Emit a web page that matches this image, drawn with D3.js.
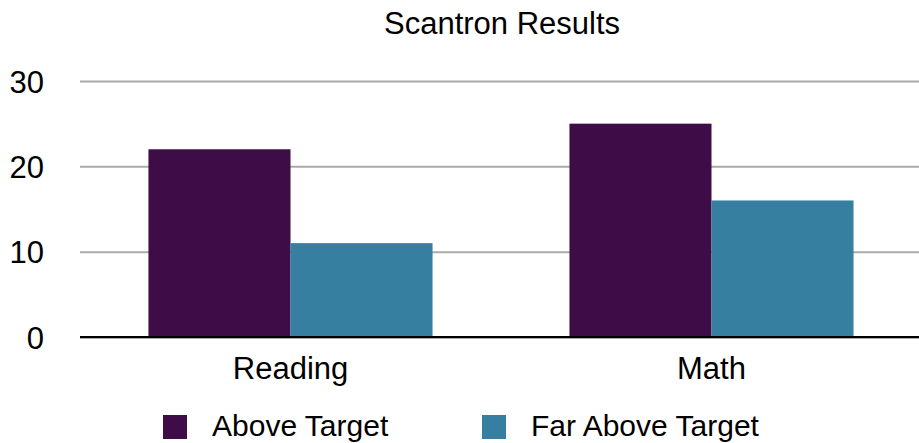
<!DOCTYPE html>
<html>
<head>
<meta charset="utf-8">
<script src="https://cdn.jsdelivr.net/npm/d3@7"></script>
<style>
  html, body { margin: 0; padding: 0; background: #fff; }
  svg { display: block; }
  text { font-family: "Liberation Sans", Arial, Helvetica, sans-serif; fill: #000; }
</style>
</head>
<body>
<svg id="chart" width="919" height="443"></svg>
<script>
const title = "Scantron Results";
const categories = ["Reading", "Math"];
const seriesNames = ["Above Target", "Far Above Target"];
const aboveTarget = [22, 25];
const farAboveTarget = [11, 16];
const yTicks = [0, 10, 20, 30];
const colors = ["#3e0d47", "#377fa1"];

const seriesValues = [aboveTarget, farAboveTarget];
const data = categories.map((c, i) => ({
  category: c,
  values: seriesNames.map((s, j) => ({ series: s, value: seriesValues[j][i], idx: j }))
}));

const svg = d3.select("#chart");
const plotLeft = 80, plotRight = 922, yTop = 81, yBottom = 337;

const x = d3.scaleBand().domain(categories).range([plotLeft, plotRight]).paddingInner(0).paddingOuter(0);
const xInner = d3.scaleBand().domain(seriesNames).range([0, x.bandwidth()]).paddingInner(0).paddingOuter(0.482);
const y = d3.scaleLinear().domain([0, 30]).range([yBottom, yTop]);

// Title
svg.append("text")
  .attr("x", 502).attr("y", 34)
  .attr("text-anchor", "middle")
  .style("font-size", "31px")
  .text(title);

// Gridlines
const yAxis = d3.axisLeft(y).tickValues(yTicks).tickSize(-(919 - plotLeft)).tickFormat(d3.format("d")).tickPadding(36);
const gAxis = svg.append("g").attr("transform", `translate(${plotLeft},0)`).call(yAxis);
gAxis.select(".domain").remove();
gAxis.selectAll(".tick line").attr("stroke", "#aaaaaa").attr("stroke-width", 2);
gAxis.selectAll(".tick text")
  .style("font-size", "31px")
  .attr("fill", "#000")
  .attr("dy", "0.36em");

// Bars
const groups = svg.append("g").selectAll("g")
  .data(data).join("g")
  .attr("transform", d => `translate(${x(d.category)},0)`);

groups.selectAll("rect")
  .data(d => d.values).join("rect")
  .attr("x", d => xInner(d.series))
  .attr("width", xInner.bandwidth())
  .attr("y", d => y(d.value))
  .attr("height", d => y(0) - y(d.value))
  .attr("fill", d => colors[d.idx]);

// Baseline axis
svg.append("line")
  .attr("x1", plotLeft).attr("x2", 919)
  .attr("y1", y(0) + 1.5).attr("y2", y(0) + 1.5)
  .attr("stroke", "#aaaaaa").attr("stroke-width", 1);
svg.append("line")
  .attr("x1", plotLeft).attr("x2", 919)
  .attr("y1", y(0)).attr("y2", y(0))
  .attr("stroke", "#000").attr("stroke-width", 2);

// X labels
const xAxis = d3.axisBottom(x).tickSize(0).tickPadding(0);
const gx = svg.append("g").attr("transform", `translate(0,${yBottom})`).call(xAxis);
gx.select(".domain").remove();
gx.selectAll(".tick text")
  .style("font-size", "31px")
  .attr("fill", "#000")
  .attr("y", 42)
  .attr("dy", 0);

// Legend
const legendX = [163, 482];
const legend = svg.append("g").selectAll("g")
  .data(seriesNames).join("g")
  .attr("transform", (d, i) => `translate(${legendX[i]},415)`);
legend.append("rect")
  .attr("width", 24).attr("height", 24)
  .attr("fill", (d, i) => colors[i]);
legend.append("text")
  .attr("x", 49).attr("y", 21)
  .style("font-size", "30px")
  .text(d => d);
</script>
</body>
</html>
